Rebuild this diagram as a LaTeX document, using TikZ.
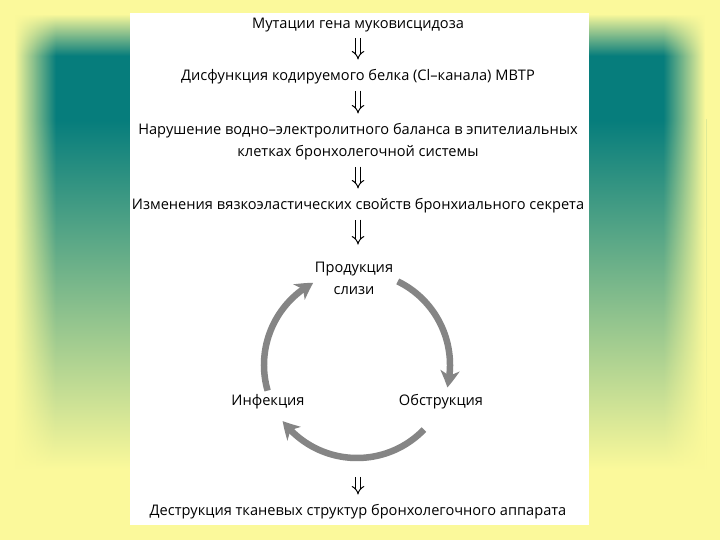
\documentclass[tikz,border=0pt]{standalone}
\usepackage{fontspec}
\setmainfont{Open Sans}
\usetikzlibrary{arrows.meta,bending}

\definecolor{bgyellow}{HTML}{FBF99B}
\definecolor{bgteal}{HTML}{067D7C}
\definecolor{cycgray}{HTML}{858585}

\tikzset{
    stage/.style={font=\fontsize{14.6}{22}\selectfont, inner sep=2pt, align=center},
    dblarrow/.style={draw=black, double=white, double distance=3.4pt, line width=1pt, -{Implies}, shorten <=4pt, shorten >=8pt},
    cycarrow/.style={cycgray, line width=6.5pt, -{Stealth[length=17pt, width=19pt, inset=5pt, bend]}}
}

\begin{document}
\begin{tikzpicture}[x=1pt, y=1pt]
    % Background
    \useasboundingbox (0,0) rectangle (720,540);
    \fill[bgyellow] (0,0) rectangle (720,540);
    \shade[top color=bgteal, bottom color=bgyellow] (14,70) rectangle (706,420);
    \fill[bgteal] (14,420) rectangle (706,526);
    % Edge fades
    \foreach \i in {0,...,41} {
        \fill[bgyellow, opacity={1-\i/42}] (14+\i,0) rectangle (15+\i,526);
        \fill[bgyellow, opacity={1-\i/42}] (706-\i,0) rectangle (705-\i,526);
        \fill[bgyellow, opacity={1-\i/42}] (14,526-\i) rectangle (706,525-\i);
    }

    % Panel
    \fill[white] (130,15) rectangle (589,527);

    % Chain of stages
    \node[stage] (t1) at (358,515) {Мутации гена муковисцидоза};
    \node[stage] (t2) at (358,463) {Дисфункция кодируемого белка (Cl–канала) МВТР};
    \node[stage] (t3) at (358,398) {Нарушение водно–электролитного баланса в эпителиальных\\клетках бронхолегочной системы};
    \node[stage] (t4) at (358,334) {Изменения вязкоэластических свойств бронхиального секрета};

    % Cycle
    \node[stage] (prod) at (354,262) {Продукция\\слизи};
    \node[stage] (inf) at (268,138) {Инфекция};
    \node[stage] (obs) at (441,138) {Обструкция};
    \coordinate (cyc) at (357,175);
    \coordinate (cycbot) at (358,63);

    \node[stage] (t5) at (358,28) {Деструкция тканевых структур бронхолегочного аппарата};

    % Arrows
    \foreach \a/\b in {t1/t2, t2/t3, t3/t4} {
        \draw[dblarrow] (\a) -- (\b);
    }
    \draw[dblarrow, shorten >=15pt] (t4.south) -- (t4.south |- prod.north);
    \draw[dblarrow, shorten <=0pt] (cycbot) -- (t5);

    \foreach \s/\e in {64/-14, -44/-143, 196/118} {
        \draw[cycarrow] ([shift={(\s:93)}]cyc) arc[start angle=\s, end angle=\e, radius=93];
    }
\end{tikzpicture}
\end{document}
